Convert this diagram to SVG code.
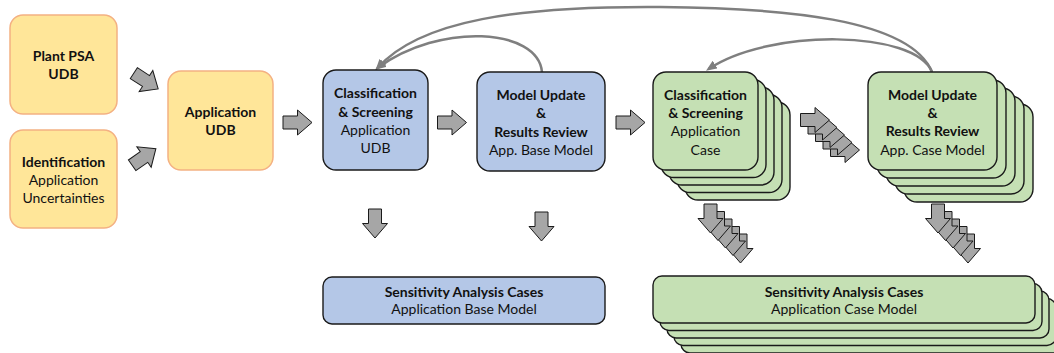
<svg xmlns="http://www.w3.org/2000/svg" xmlns:xlink="http://www.w3.org/1999/xlink" width="1054" height="353" viewBox="0 0 1054 353">
  <style>
    .yel { fill: #FFE699; stroke: #F4B183; stroke-width: 1.5; }
    .blu { fill: #B4C7E7; stroke: #1A1A1A; stroke-width: 1.4; }
    .grn { fill: #C5E0B4; stroke: #1A1A1A; stroke-width: 1.4; }
    .blk { fill: #A6A6A6; stroke: #1A1A1A; stroke-width: 1; }
    .curve { fill: none; stroke: #7F7F7F; stroke-width: 2.5; marker-end: url(#head); }
    text { font-family: Lato, "Open Sans", "Liberation Sans", sans-serif; font-size: 14px; fill: #111; text-anchor: middle; }
    .b { font-weight: bold; }
  </style>
  <defs>
    <!-- block arrow pointing right, centred at origin -->
    <path id="blockArrow" class="blk" d="M-14.5,-6.5 H0 V-12.5 L14.5,0 L0,12.5 V6.5 H-14.5 Z"/>
    <marker id="head" markerUnits="userSpaceOnUse" markerWidth="12" markerHeight="11" refX="8" refY="4.5" orient="auto">
      <path d="M0,0 L11,4.5 L0,9 Z" fill="#7F7F7F"/>
    </marker>
  </defs>

  <!-- connectors -->
  <g id="connectors">
    <use href="#blockArrow" transform="translate(146,81) rotate(33)"/>
    <use href="#blockArrow" transform="translate(144,157) rotate(-35)"/>
    <use href="#blockArrow" transform="translate(297.5,122.5)"/>
    <use href="#blockArrow" transform="translate(452,122.5)"/>
    <use href="#blockArrow" transform="translate(630.5,122.5)"/>
    <use href="#blockArrow" transform="translate(375,223.5) rotate(90)"/>
    <use href="#blockArrow" transform="translate(541.5,226.5) rotate(90)"/>

    <!-- stacked arrow between green nodes -->
    <g id="stairRight">
      <use href="#blockArrow" transform="translate(845,150)"/>
      <use href="#blockArrow" transform="translate(837.5,142.5)"/>
      <use href="#blockArrow" transform="translate(830,135)"/>
      <use href="#blockArrow" transform="translate(822.5,127.5)"/>
      <use href="#blockArrow" transform="translate(815,120)"/>
    </g>
    <g id="stairDown1">
      <use href="#blockArrow" transform="translate(740.5,248.5) rotate(90)"/>
      <use href="#blockArrow" transform="translate(733,241) rotate(90)"/>
      <use href="#blockArrow" transform="translate(725.5,233.5) rotate(90)"/>
      <use href="#blockArrow" transform="translate(718,226) rotate(90)"/>
      <use href="#blockArrow" transform="translate(710.5,218.5) rotate(90)"/>
    </g>
    <g id="stairDown2">
      <use href="#blockArrow" transform="translate(968,248.5) rotate(90)"/>
      <use href="#blockArrow" transform="translate(960.5,241) rotate(90)"/>
      <use href="#blockArrow" transform="translate(953,233.5) rotate(90)"/>
      <use href="#blockArrow" transform="translate(945.5,226) rotate(90)"/>
      <use href="#blockArrow" transform="translate(938,218.5) rotate(90)"/>
    </g>

    <!-- feedback loops -->
    <path class="curve" d="M542,72 C538,28 440,22 377.5,68"/>
    <path class="curve" d="M932,72 C910,18 780,8 660,7 C520,6 420,20 377.5,68"/>
    <path class="curve" d="M932,72 C915,30 770,28 708.5,69"/>
  </g>

  <g id="plant-psa-udb">
    <rect class="yel" x="10" y="15" width="107" height="99" rx="13"/>
    <text class="b" x="63.5" y="61">Plant PSA</text>
    <text class="b" x="63.5" y="79">UDB</text>
  </g>
  <g id="identification">
    <rect class="yel" x="10" y="130" width="107" height="98" rx="13"/>
    <text class="b" x="63.5" y="167">Identification</text>
    <text x="63.5" y="185">Application</text>
    <text x="63.5" y="203">Uncertainties</text>
  </g>
  <g id="application-udb">
    <rect class="yel" x="168" y="71" width="105" height="99" rx="13"/>
    <text class="b" x="220.5" y="117">Application</text>
    <text class="b" x="220.5" y="135">UDB</text>
  </g>

  <g id="classification-base">
    <rect class="blu" x="323" y="70" width="105" height="100" rx="13"/>
    <text class="b" x="375.5" y="98">Classification</text>
    <text class="b" x="375.5" y="117">&amp; Screening</text>
    <text x="375.5" y="135">Application</text>
    <text x="375.5" y="153">UDB</text>
  </g>
  <g id="model-update-base">
    <rect class="blu" x="477" y="72" width="128" height="99" rx="13"/>
    <text class="b" x="541" y="100">Model Update</text>
    <text class="b" x="541" y="118">&amp;</text>
    <text class="b" x="541" y="137">Results Review</text>
    <text x="541" y="155">App. Base Model</text>
  </g>

  <g id="classification-case">
    <rect class="grn" x="685" y="102" width="105" height="98" rx="13"/>
    <rect class="grn" x="677" y="94.5" width="105" height="98" rx="13"/>
    <rect class="grn" x="669" y="87" width="105" height="98" rx="13"/>
    <rect class="grn" x="661" y="79.5" width="105" height="98" rx="13"/>
    <rect class="grn" x="653" y="72" width="105" height="98" rx="13"/>
    <text class="b" x="705.5" y="100">Classification</text>
    <text class="b" x="705.5" y="118">&amp; Screening</text>
    <text x="705.5" y="136">Application</text>
    <text x="705.5" y="155">Case</text>
  </g>
  <g id="model-update-case">
    <rect class="grn" x="904" y="104" width="129" height="98" rx="13"/>
    <rect class="grn" x="895" y="96" width="129" height="98" rx="13"/>
    <rect class="grn" x="886" y="88" width="129" height="98" rx="13"/>
    <rect class="grn" x="877" y="80" width="129" height="98" rx="13"/>
    <rect class="grn" x="868" y="72" width="129" height="98" rx="13"/>
    <text class="b" x="932.5" y="100">Model Update</text>
    <text class="b" x="932.5" y="118">&amp;</text>
    <text class="b" x="932.5" y="136">Results Review</text>
    <text x="932.5" y="155">App. Case Model</text>
  </g>

  <g id="sensitivity-base">
    <rect class="blu" x="323" y="277" width="282" height="47" rx="9"/>
    <text class="b" x="464" y="297">Sensitivity Analysis Cases</text>
    <text x="464" y="314">Application Base Model</text>
  </g>
  <g id="sensitivity-case">
    <rect class="grn" x="681" y="306" width="382" height="47" rx="9"/>
    <rect class="grn" x="674" y="298.5" width="382" height="47" rx="9"/>
    <rect class="grn" x="667" y="291" width="382" height="47" rx="9"/>
    <rect class="grn" x="660" y="283.5" width="382" height="47" rx="9"/>
    <rect class="grn" x="653" y="276" width="382" height="47" rx="9"/>
    <text class="b" x="844" y="297">Sensitivity Analysis Cases</text>
    <text x="844" y="314">Application Case Model</text>
  </g>
</svg>
